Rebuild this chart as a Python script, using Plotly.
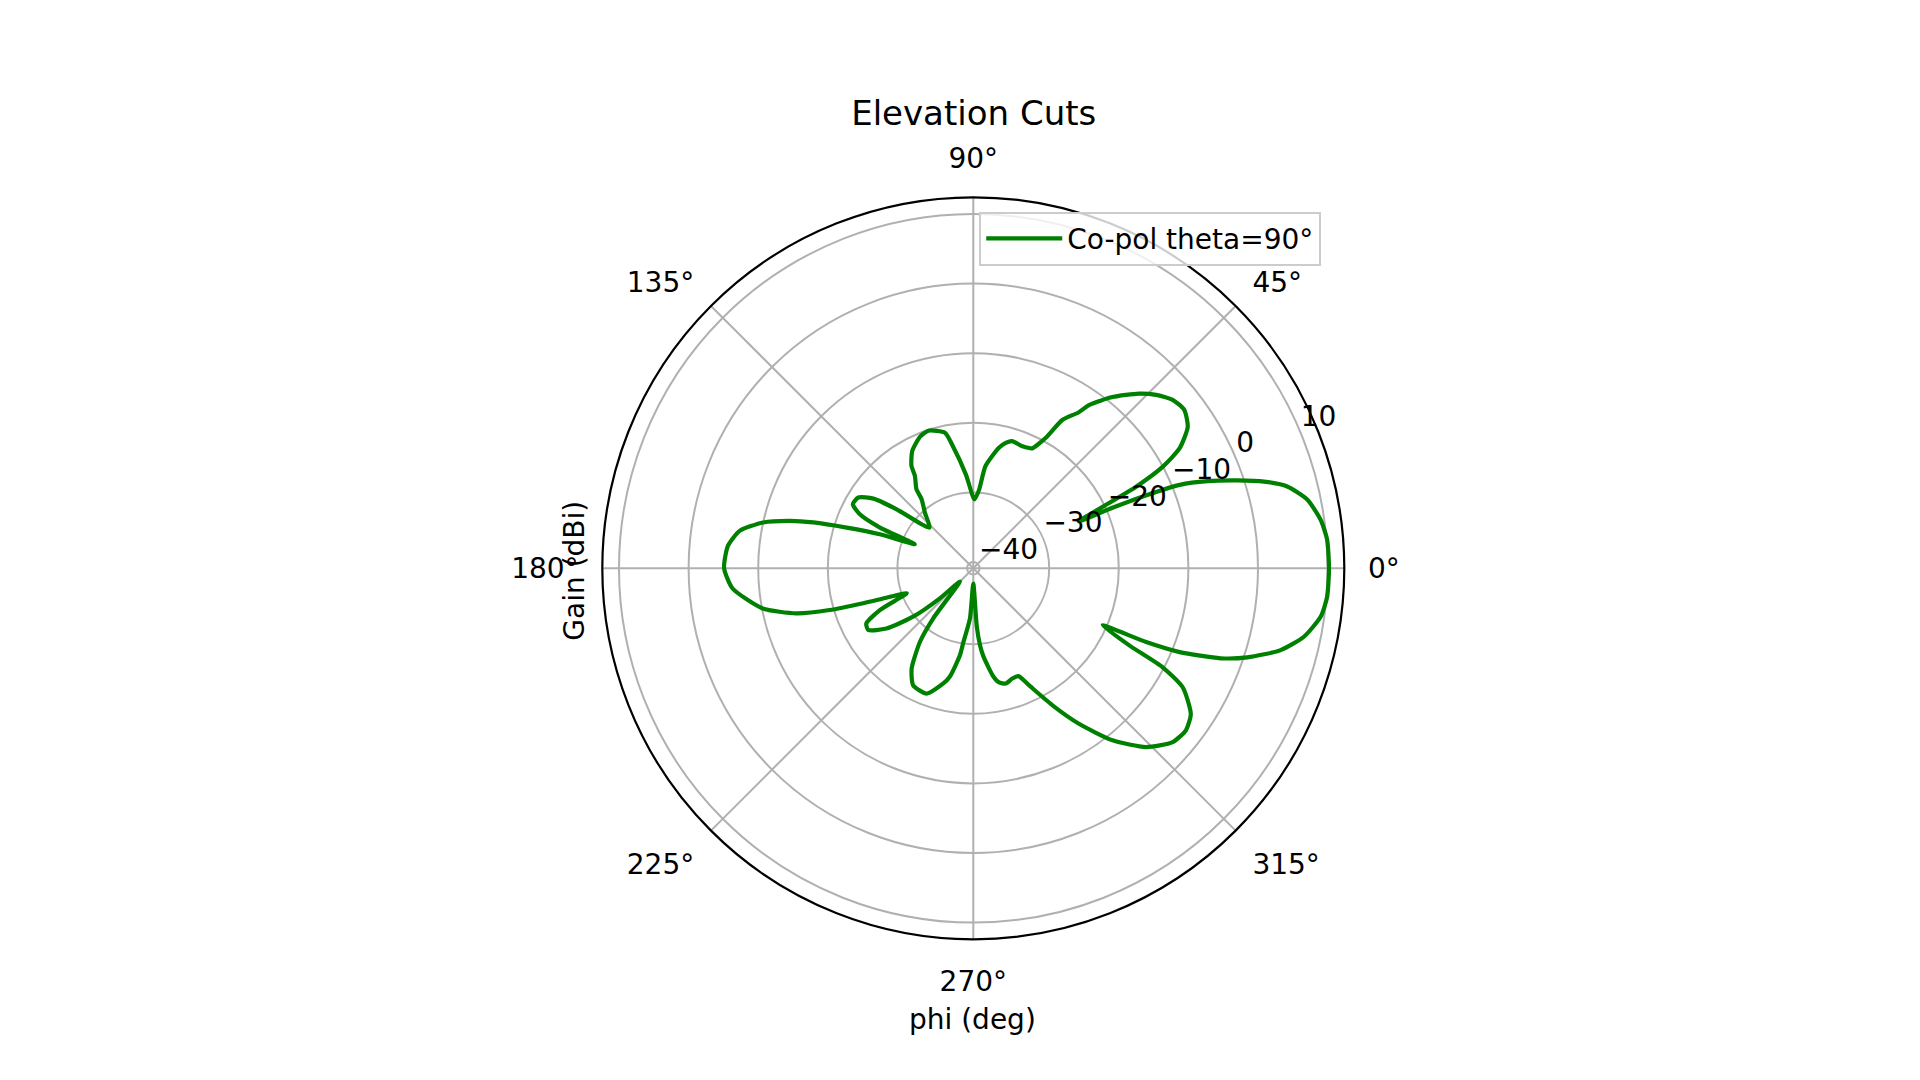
import plotly.graph_objects as go

# elevation cut
phi_deg = [
    0, 4.6, 7.9, 11.6, 14.6, 16.6, 18.4, 20.4, 22.0, 22.9, 23.5, 24.0,
    26.6, 28.2, 30.2, 33.4, 36.9, 40.2, 43.5, 46.5, 50.9, 54.6, 56.0, 59.0,
    61.0, 63.8, 64.6, 68.4, 73.0, 75.5, 78.0, 83.2, 85.8, 89.0,
    94.5, 99.6, 101.8, 108.1, 112.0, 117.5, 121.1, 122.3, 125.7, 126.8, 131.0, 137.2,
    142.4, 145.1, 148.4, 152.0, 154.5, 156.4, 157.6,
    160.0, 162.2, 164.0, 165.5, 167.7, 170.9, 174.8, 180.0, 184.8, 190.8,
    194.3, 196.2, 197.6, 198.7, 200.6,
    204.1, 207.3, 210.4, 214.7, 218.8, 222.0, 224.5,
    231.3, 234.0, 238.4, 242.8, 249.6, 255.4, 257.8, 261.3, 262.3, 266.2, 270.0,
    273.4, 275.0, 276.5, 280.5, 282.7, 285.7, 289.5, 292.7, 295.7, 300.2,
    304.2, 309.0, 314.0, 318.9, 322.7, 326.2, 330.4, 332.4, 333.7, 336.2,
    336.9, 337.9, 340.0, 342.0, 345.1, 348.3, 352.1, 355.4, 360.0,
]
gain_dbi = [
    10.2, 10.1, 9.5, 8.1, 5.7, 2.7, -0.9, -5.0, -8.9, -14.0, -19.0, -24.3,
    -14.8, -10.0, -6.6, -4.0, -3.0, -3.4, -4.7, -6.3, -9.2, -12.1, -13.9, -16.0,
    -19.5, -21.7, -21.8, -22.0, -21.8, -22.3, -23.2, -26.1, -29.6, -31.0,
    -27.4, -23.0, -21.0, -20.1, -20.5, -21.9, -23.7, -25.2, -26.9, -28.5, -30.3, -32.3,
    -27.0, -23.4, -21.5, -21.3, -22.8, -26.2, -31.8,
    -26.6, -21.8, -17.0, -13.7, -10.0, -6.9, -5.5, -5.1, -6.2, -10.1,
    -14.7, -19.4, -24.3, -27.7, -30.7,
    -26.2, -23.6, -23.4, -25.7, -29.8, -34.5, -38.2,
    -31.7, -27.9, -24.0, -22.0, -21.7, -23.8, -25.0, -28.3, -30.1, -33.7, -38.7,
    -32.6, -29.8, -28.2, -25.1, -24.1, -23.7, -24.1, -24.1, -22.1, -18.0,
    -13.9, -9.1, -5.2, -2.9, -2.5, -3.3, -6.3, -10.2, -15.9, -20.6,
    -13.9, -8.9, -3.1, 0.5, 4.8, 7.6, 9.5, 10.1, 10.2,
]

r_ticks = [-40, -30, -20, -10, 0, 10]
r_range = [-40.9, 12.4]
theta_step = 45

r_label_angle = 22.5   # radial labels sit along this direction, like matplotlib

grid = "#b0b0b0"
font = "DejaVu Sans"

fig = go.Figure()
fig.add_trace(
    go.Scatterpolar(
        r=gain_dbi,
        theta=phi_deg,
        mode="lines",
        line=dict(color="green", width=4.2, shape="spline", smoothing=0.6),
        name="Co-pol theta=90°",
    )
)

# radial tick labels: horizontal, lower-left corner on the ring
fig.add_trace(
    go.Scatterpolar(
        r=r_ticks,
        theta=[r_label_angle] * len(r_ticks),
        mode="text",
        text=[str(v).replace("-", "\u2212") for v in r_ticks],
        textposition="top right",
        textfont=dict(size=28, color="black"),
        showlegend=False,
        hoverinfo="skip",
        cliponaxis=False,
    )
)

# page body keeps its 8px margin, so the figure is 16px smaller than the window
fig.update_layout(
    width=1904,
    height=1064,
    margin=dict(l=0, r=0, t=0, b=0),
    paper_bgcolor="white",
    font=dict(family=font, size=28, color="black"),
    title=dict(
        text="Elevation Cuts",
        font=dict(size=34),
        x=0.5072,
        xanchor="center",
        y=0.9008,
        yanchor="middle",
    ),
    showlegend=True,
    legend=dict(
        x=0.5101,
        y=0.8086,
        xanchor="left",
        yanchor="top",
        bgcolor="rgba(255,255,255,0.8)",
        bordercolor="#cccccc",
        borderwidth=2,
        itemwidth=76,
        font=dict(size=28),
    ),
    polar=dict(
        domain=dict(x=[0.31213, 0.70184], y=[0.12472, 0.82209]),
        bgcolor="white",
        radialaxis=dict(
            range=r_range,
            tickvals=r_ticks,
            showticklabels=False,
            showline=False,
            ticks="",
            gridcolor=grid,
            gridwidth=2.2,
        ),
        angularaxis=dict(
            dtick=theta_step,
            direction="counterclockwise",
            rotation=0,
            showline=True,
            linecolor="black",
            linewidth=2.2,
            gridcolor=grid,
            gridwidth=2.2,
            ticks="outside",
            ticklen=17,
            tickcolor="rgba(0,0,0,0)",
            tickfont=dict(size=28),
        ),
    ),
    annotations=[
        dict(text="phi (deg)", x=0.5066, y=0.0498, xref="paper", yref="paper",
             xanchor="center", yanchor="middle", showarrow=False,
             font=dict(size=28)),
        dict(text="Gain (dBi)", x=0.2978, y=0.4712, xref="paper", yref="paper",
             xanchor="center", yanchor="middle", showarrow=False,
             textangle=-90, font=dict(size=28)),
    ],
)

fig.write_html("out.html")
